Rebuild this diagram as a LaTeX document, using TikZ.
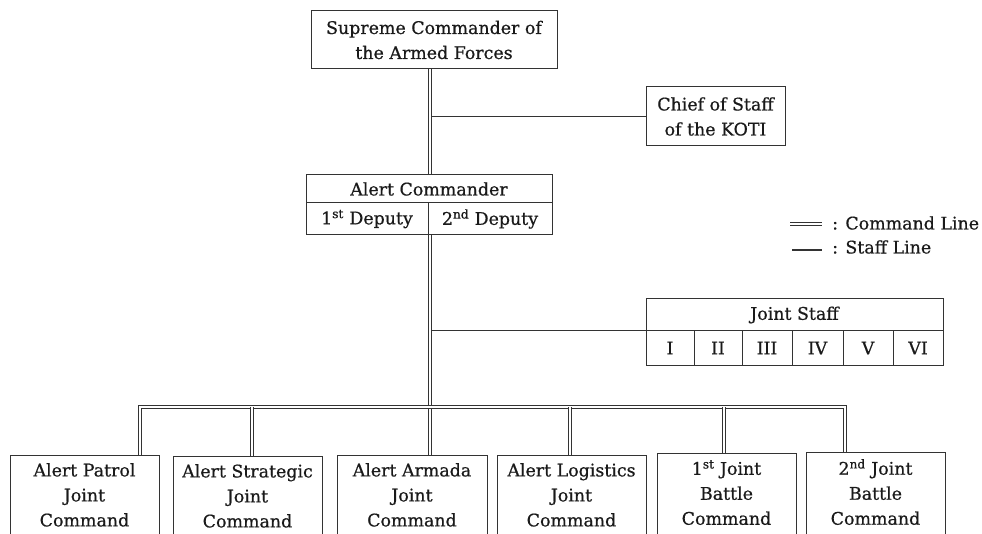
\documentclass[tikz,border=0pt]{standalone}
\usepackage{fontspec}
\setmainfont{DejaVu Serif}[FakeBold=0.6]
\usetikzlibrary{positioning}
\definecolor{ink}{HTML}{1A1A1A}
\definecolor{rule}{HTML}{333333}
\begin{document}
\begin{tikzpicture}[x=1pt,y=-1pt,
  font=\fontsize{17.4}{25}\selectfont,
  box/.style={draw=rule,line width=1pt,fill=white,text=ink,align=center,inner sep=0pt},
  cmd/.style={draw=rule,line width=1.2pt,double=white,double distance=1.4pt},
  staff/.style={draw=rule,line width=1.2pt},
]
\useasboundingbox (0,0) rectangle (982,534);
\clip (0,0) rectangle (982,534);

% top of the chain
\node[box,minimum width=246pt,minimum height=58pt] (sup) at (434,40)
  {Supreme Commander of\\the Armed Forces};
\node[box,minimum width=139pt,minimum height=59pt] (cos) at (715.5,116.5)
  {Chief of Staff\\of the KOTI};

% alert commander with its two deputies
\node[box,minimum width=246pt,minimum height=28pt] (ac) at (429,189) {Alert Commander};
\node[box,minimum width=122pt,minimum height=32pt] (dep1) at (367,219)
  {1\textsuperscript{st} Deputy};
\node[box,minimum width=124pt,minimum height=32pt] (dep2) at (490,219)
  {2\textsuperscript{nd} Deputy};

% joint staff and its six sections
\node[box,minimum width=297pt,minimum height=32pt] (js) at (794.5,315) {Joint Staff};
\foreach \n/\l/\r in {I/646/694,II/694/742,III/742/792,IV/792/843,V/843/893,VI/893/943}{
  \node[box,minimum width={\r pt-\l pt},minimum height=34pt] (js\n) at ({(\l+\r)/2},348) {\n};
}

% subordinate commands (running off the lower edge)
\foreach \k/\l/\r/\t/\dy/\txt in {
  1/10/159/455/8/{Alert Patrol\\Joint\\Command},
  2/173/322/456/8/{Alert Strategic\\Joint\\Command},
  3/337/487/455/8/{Alert Armada\\Joint\\Command},
  4/497/646/455/8/{Alert Logistics\\Joint\\Command},
  5/657/796/453/7/{1\textsuperscript{st} Joint\\Battle\\Command},
  6/806/945/452/7/{2\textsuperscript{nd} Joint\\Battle\\Command}}{
  \node[box,anchor=north,minimum width={\r pt-\l pt},minimum height=110pt] (b\k)
    at ({(\l+\r)/2},\t) {};
  \node[text=ink,align=center,anchor=north,inner sep=0pt] (t\k)
    at ({(\l+\r)/2},{\t+\dy}) {\txt};
}

% spine and bus positions
\coordinate (sp1) at (430,0);
\foreach \k/\x in {1/140,2/252,4/570,5/724,6/845}{
  \coordinate (d\k) at (\x,407);
}

% staff lines
\draw[staff] (cos.west) -- (cos.west -| sp1);
\draw[staff] (jsI.north west) -- (jsI.north west -| sp1);

% command lines
\draw[cmd] (sup.south -| sp1) -- (ac.north -| sp1);
\draw[cmd] (dep1.south -| sp1) -- (b3.north -| sp1);
\draw[cmd,line join=miter] (b1.north -| d1) -- (d1) -- (d6) -- (b6.north -| d6);
\foreach \k in {2,4,5}{
  \draw[cmd] (d\k) -- (b\k.north -| d\k);
}

% legend
\coordinate (lg1) at (790,224);
\coordinate (lg2) at (822,224);
\coordinate (lg3) at (792,250);
\coordinate (lg4) at (822,250);
\draw[cmd] (lg1) -- (lg2);
\draw[staff,line width=1.8pt] (lg3) -- (lg4);
\node[anchor=west,text=ink,inner sep=0pt] (lgc) at (832,223) {: Command Line};
\node[anchor=west,text=ink,inner sep=0pt] (lgs) at (832,247) {: Staff Line};
\end{tikzpicture}
\end{document}
